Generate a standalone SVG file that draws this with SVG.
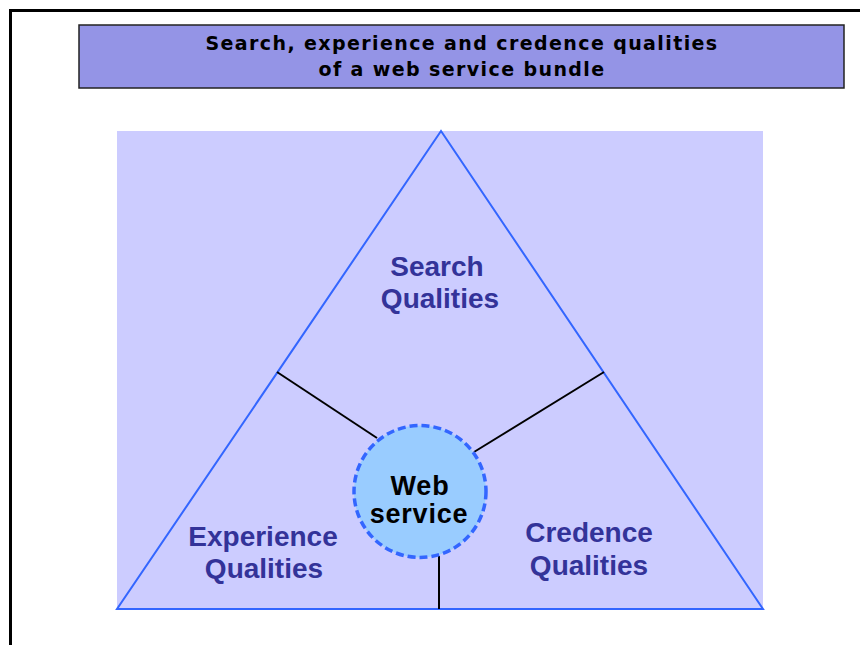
<svg xmlns="http://www.w3.org/2000/svg" width="860" height="645" viewBox="0 0 860 645">
<style>
.title{font-family:"DejaVu Sans","Liberation Sans",sans-serif;font-weight:bold;font-size:19px;letter-spacing:1.4px;fill:#000;text-anchor:middle}
.lbl{font-family:"Liberation Sans",Arial,sans-serif;font-weight:bold;font-size:28px;fill:#333399;text-anchor:middle}
.ws{font-family:"Liberation Sans",Arial,sans-serif;font-weight:bold;font-size:27px;letter-spacing:0.8px;fill:#000;text-anchor:middle}
.conn{stroke:#000;stroke-width:2;fill:none}
</style>
<rect width="860" height="645" fill="#fff"/>
<path d="M10.5 645 V10.5 H860" fill="none" stroke="#000" stroke-width="3"/>
<g id="title">
<rect x="79" y="25" width="765" height="63" fill="#9494e6" stroke="#222" stroke-width="1.5"/>
<text class="title" x="462" y="50">Search, experience and credence qualities</text>
<text class="title" x="462" y="76">of a web service bundle</text>
</g>
<rect x="117" y="131" width="646" height="478" fill="#ccccff"/>
<g id="triangle">
<polygon points="441,131 117,609 763,609" fill="none" stroke="#3366ff" stroke-width="2"/>
</g>
<g id="connectors">
<line class="conn" x1="277" y1="372" x2="377" y2="438"/>
<line class="conn" x1="604" y1="372" x2="474" y2="452"/>
<line class="conn" x1="439" y1="556" x2="439" y2="609"/>
</g>
<g id="search">
<text class="lbl" x="437" y="276">Search</text>
<text class="lbl" x="440" y="308">Qualities</text>
</g>
<g id="experience">
<text class="lbl" x="263" y="546">Experience</text>
<text class="lbl" x="264" y="578">Qualities</text>
</g>
<g id="credence">
<text class="lbl" x="589" y="542">Credence</text>
<text class="lbl" x="589" y="575">Qualities</text>
</g>
<g id="webservice">
<circle cx="420" cy="491.5" r="66" fill="#99ccff" stroke="#3366ff" stroke-width="3.5" stroke-dasharray="8,4"/>
<text class="ws" x="420" y="495">Web</text>
<text class="ws" x="419" y="523">service</text>
</g>
</svg>
